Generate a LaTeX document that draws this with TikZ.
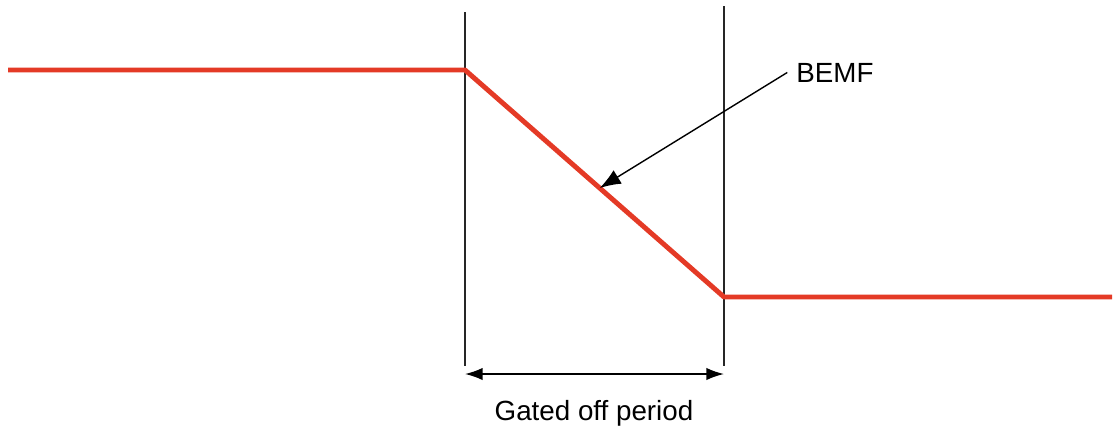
\documentclass[tikz,border=0pt]{standalone}
\usepackage{fontspec}
\setmainfont{Liberation Sans}
\usepackage{xcolor}
\usetikzlibrary{arrows.meta,calc}
\definecolor{bemfred}{RGB}{228,58,38}

\begin{document}
\begin{tikzpicture}[
  x=0.02cm, y=-0.02cm,
  font=\fontsize{15.8}{18}\selectfont,
  signal/.style={draw=bemfred, line width=2.8pt, line join=round},
  marker/.style={draw=black!85, line width=0.9pt},
  dim/.style={{Latex[length=10pt,width=7pt]}-{Latex[length=10pt,width=7pt]}, line width=0.9pt},
  arr/.style={-{Latex[length=12pt,width=9pt]}, line width=0.8pt},
  lbl/.style={inner sep=2pt, anchor=base}
]
\useasboundingbox (0,0) rectangle (1116,427);
% waveform corners
\coordinate (start) at (8,70);
\coordinate (fall) at (465,70);
\coordinate (rise) at (724,297);
\coordinate (stop) at (1112,297);
\coordinate (hit) at ($(fall)!0.52!(rise)$);
% gate markers
\coordinate (gtopL) at (465,12);
\coordinate (gtopR) at (724,6);
\coordinate (gbotL) at (465,366);
\coordinate (gbotR) at (724,366);
\coordinate (dimL) at (465,374);
\coordinate (dimR) at (724,374);
\draw[marker] (gtopL) -- (gbotL);
\draw[marker] (gtopR) -- (gbotR);
\draw[signal] (start) -- (fall) -- (rise) -- (stop);
\draw[dim] (dimL) -- (dimR);
\node[lbl] (gate) at (594,420) {Gated off period};
\node[lbl] (bemf) at (835,82) {BEMF};
\draw[arr] ([xshift=-3pt]bemf.west) -- (hit);
\end{tikzpicture}
\end{document}
